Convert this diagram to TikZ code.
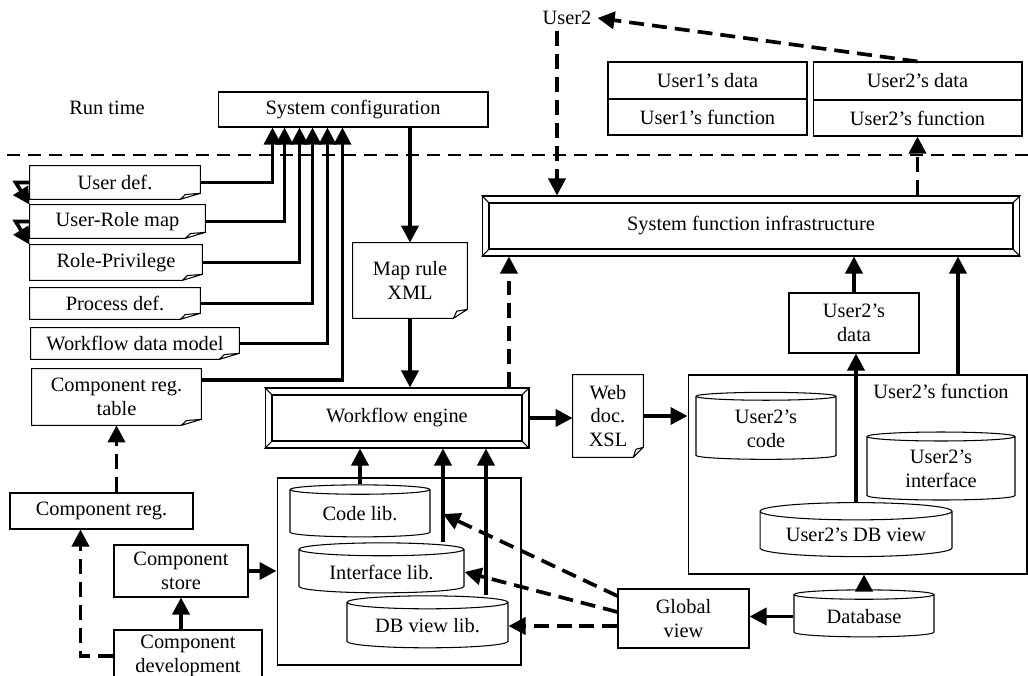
\documentclass[tikz,border=0pt]{standalone}
\usepackage{fontspec}
\setmainfont{Liberation Serif}
\usetikzlibrary{shapes.geometric, arrows.meta, calc}

\tikzset{
    box/.style={draw, line width=0.6pt, align=center, inner sep=1pt},
    doc/.style={align=center, inner sep=1pt},
    bevel/.style={draw, line width=0.6pt, align=center},
    store/.style={draw, line width=0.6pt, cylinder, shape border rotate=90, aspect=0.12, align=center, inner sep=1pt},
    arr/.style={-{Triangle[length=0.34cm,width=0.34cm]}, line width=2.1pt},
    darr/.style={arr, dash pattern=on 0.3cm off 0.16cm},
}

\begin{document}
\begin{tikzpicture}[x=0.02cm, y=-0.02cm, every node/.style={font=\fontsize{11.6}{13.5}\selectfont}]
    \useasboundingbox (0,0) rectangle (1028,676);

    % Run time
    \node (runtime) at (107,108) {Run time};
    \node[box, minimum width=5.4cm, minimum height=0.7cm] (sysconf) at (353,109.5) {System configuration};
    \node (user2) at (567,18) {User2};
    \node[box, minimum width=3.98cm, minimum height=0.74cm] (u1data) at (707.5,80.5) {User1's data};
    \node[box, minimum width=3.98cm, minimum height=0.72cm] (u1func) at (707.5,117) {User1's function};
    \node[box, minimum width=4.18cm, minimum height=0.76cm] (u2data) at (917.5,81) {User2's data};
    \node[box, minimum width=4.18cm, minimum height=0.72cm] (u2func) at (917.5,118) {User2's function};
    \draw[line width=1.6pt, dash pattern=on 0.26cm off 0.16cm] (7,155) -- (1028,155);

    % Definitions
    \node[doc, minimum width=3.4cm, minimum height=0.66cm] (userdef) at (115,182.5) {User def.};
    \node[doc, minimum width=3.5cm, minimum height=0.66cm] (urmap) at (117.5,221.5) {User-Role map};
    \node[doc, minimum width=3.44cm, minimum height=0.7cm] (rolepriv) at (116,262.5) {Role-Privilege};
    \node[doc, minimum width=3.4cm, minimum height=0.62cm] (procdef) at (115,303.5) {Process def.};
    \node[doc, minimum width=4.16cm, minimum height=0.62cm] (wfmodel) at (135,343.5) {Workflow data model};
    \node[doc, minimum width=3.38cm, minimum height=1.12cm] (crtable) at (116.5,397) {Component reg.\\table};
    \node[doc, minimum width=2.28cm, minimum height=1.5cm] (mapxml) at (410,280.5) {Map rule\\XML};
    \node[doc, minimum width=1.4cm, minimum height=1.64cm] (webdoc) at (608,416) {Web\\doc.\\XSL};
    \foreach \d/\fw/\fh in {userdef/0.4/0.12, urmap/0.4/0.12, rolepriv/0.4/0.12, procdef/0.4/0.12,
                            wfmodel/0.4/0.12, crtable/0.4/0.12, mapxml/0.28/0.18, webdoc/0.2/0.2}
        \draw[line width=0.6pt] (\d.north west) -- (\d.north east) -- ([yshift=\fh cm]\d.south east)
            -- ([xshift=-\fw cm]\d.south east) -- (\d.south west) -- cycle
            ([yshift=\fh cm]\d.south east) -- ([shift={(-0.75*\fw cm,0.8*\fh cm)}]\d.south east)
            -- ([xshift=-\fw cm]\d.south east);

    % Engines
    \node[bevel, minimum width=10.76cm, minimum height=1.2cm] (infra) at (751,226) {System function infrastructure};
    \node[bevel, minimum width=5.28cm, minimum height=1.2cm] (wfengine) at (397,418) {Workflow engine};
    \foreach \b in {infra, wfengine} {
        \draw[line width=1pt] ([shift={(0.15cm,-0.15cm)}]\b.north west) rectangle ([shift={(-0.15cm,0.15cm)}]\b.south east);
        \draw[line width=0.6pt] (\b.north west) -- ++(0.15cm,-0.15cm) (\b.north east) -- ++(-0.15cm,-0.15cm)
            (\b.south west) -- ++(0.15cm,0.15cm) (\b.south east) -- ++(-0.15cm,0.15cm);
    }

    % Components
    \node[box, minimum width=3.66cm, minimum height=0.72cm] (compreg) at (101.5,511) {Component reg.};
    \node[box, minimum width=2.68cm, minimum height=1.04cm] (compstore) at (181,571) {Component\\store};
    \node[box, minimum width=2.96cm, minimum height=1.04cm] (compdev) at (188,656) {Component\\development};

    % Libraries
    \node[box, minimum width=4.88cm, minimum height=3.74cm] (libs) at (399,571.5) {};
    \node[store, minimum width=2.8cm, minimum height=1.04cm] (codelib) at (360,514) {Code lib.};
    \node[store, minimum width=3.3cm, minimum height=1.0cm] (intlib) at (381.5,572) {Interface lib.};
    \node[store, minimum width=3.22cm, minimum height=1.04cm] (dblib) at (427.5,626) {DB view lib.};

    % User2's function
    \node[box, minimum width=6.78cm, minimum height=3.98cm] (u2fbox) at (857.5,474.5) {};
    \node (u2flabel) at (941,391) {User2's function};
    \node[store, minimum width=2.8cm, minimum height=1.34cm] (u2code) at (766,428.5) {User2's\\code};
    \node[store, minimum width=2.96cm, minimum height=1.36cm] (u2intf) at (941,469) {User2's\\interface};
    \node[store, minimum width=3.84cm, minimum height=1.08cm] (u2dbv) at (856,535) {User2's DB view};
    \node[box, minimum width=2.6cm, minimum height=1.2cm] (u2ddata) at (854,323) {User2's\\data};
    \node[store, minimum width=2.8cm, minimum height=0.94cm] (database) at (864,616.5) {Database};
    \node[box, minimum width=2.62cm, minimum height=1.18cm] (glview) at (683.5,618.5) {Global\\view};

    % Configuration links
    \foreach \d/\s in {userdef/1.1, urmap/1.34, rolepriv/1.64, procdef/1.9, wfmodel/2.2}
        \draw[arr, line width=1.8pt] (\d.east) -| ([xshift=\s cm]sysconf.south west);
    \draw[arr, line width=1.8pt] ([yshift=0.34cm]crtable.east) -| ([xshift=2.5cm]sysconf.south west);
    \draw[arr] (userdef.west) -- ++(-0.28cm,0) -- (urmap.north west);
    \draw[arr] (urmap.west) -- ++(-0.28cm,0) -- (rolepriv.north west);

    \draw[arr] (mapxml.north |- sysconf.south) -- (mapxml.north);
    \draw[arr] (mapxml.south) -- (mapxml.south |- wfengine.north);
    \coordinate (wfup) at ([xshift=2.24cm]wfengine.north);
    \draw[darr] (wfup) -- (wfup |- infra.south);
    \draw[arr] (wfengine.east) -- (wfengine.east -| webdoc.west);
    \draw[arr] (webdoc.east) -- (webdoc.east -| u2fbox.west);

    % Library links
    \draw[arr] (codelib.north) -- (codelib.north |- wfengine.south);
    \coordinate (ilup) at ([xshift=1.23cm]intlib.north);
    \draw[arr] (ilup) -- (ilup |- wfengine.south);
    \coordinate (dbup) at ([xshift=1.17cm]dblib.north);
    \draw[arr] (dbup) -- (dbup |- wfengine.south);

    \draw[arr] (compstore.east) -- (compstore.east -| libs.west);
    \draw[arr] (compdev.north -| compstore.south) -- (compstore.south);
    \draw[darr] (compdev.west) -| ([xshift=-0.42cm]compreg.south);
    \draw[darr] (compreg.north -| crtable.south) -- (crtable.south);

    \draw[darr] ([yshift=0.45cm]glview.west) -- (ilup |- codelib.east);
    \draw[darr] ([yshift=0.13cm]glview.west) -- (intlib.east);
    \draw[darr] (glview.west |- dblib.east) -- (dblib.east);

    % User2 links
    \draw[arr] (u2dbv.north) -- (u2dbv.north |- u2ddata.south);
    \draw[arr] (u2ddata.north) -- (u2ddata.north |- infra.south);
    \coordinate (ufup) at ([xshift=2.01cm]u2fbox.north);
    \draw[arr] (ufup) -- (ufup |- infra.south);
    \draw[arr] (database.north) -- (database.north |- u2fbox.south);
    \draw[arr] (database.west) -- (database.west -| glview.east);
    \draw[darr] (u2func.south |- infra.north) -- (u2func.south);
    \draw[darr] (u2data.north) -- (user2.east);
    \coordinate (u2down) at ([xshift=-0.2cm]user2.south);
    \draw[darr] (u2down) -- (u2down |- infra.north);

\end{tikzpicture}
\end{document}
